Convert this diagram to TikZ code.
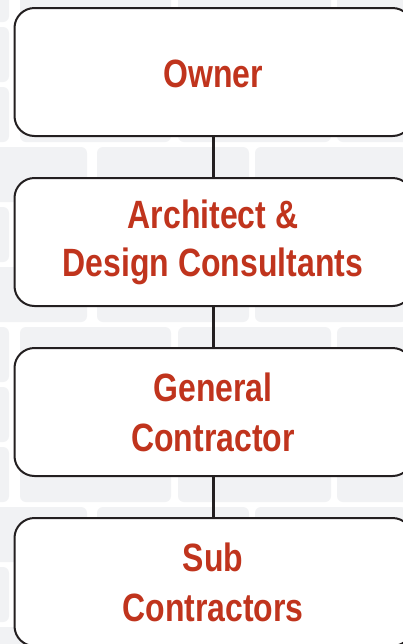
\documentclass[tikz,border=0pt]{standalone}
\usepackage{fontspec}
\setmainfont{Liberation Sans}[FakeStretch=0.81]
\definecolor{brickgray}{HTML}{F1F2F4}
\definecolor{linedark}{HTML}{231F20}
\definecolor{textred}{HTML}{C0341D}
\begin{document}
\begin{tikzpicture}[x=0.75pt,y=-0.75pt,
  brick/.style={fill=brickgray, rounded corners=4.5pt},
  orgbox/.style={draw=linedark, line width=1.5pt, fill=white, rounded corners=15pt,
    minimum width=298.5pt, minimum height=96pt, inner sep=0pt},
  lbl/.style={text=textred, font=\fontsize{29.6}{36}\selectfont\bfseries, inner sep=0pt, anchor=base},
  conn/.style={draw=linedark, line width=2.25pt}]
\useasboundingbox (0,0) rectangle (403,644);
\clip (0,0) rectangle (403,644);
\fill[white] (0,0) rectangle (403,644);
% background bricks
\foreach \t in {-33,27,87,207,327,387,447,567} {
  \foreach \a/\b in {-10/9,20/171,178/331,337/489}
    \fill[brick] (\a,\t) rectangle (\b,\t+55);
}
\foreach \t in {147,267,507,627} {
  \foreach \a/\b in {-60/87,97/249,255/407,413/560}
    \fill[brick] (\a,\t) rectangle (\b,\t+55);
}
% boxes
\node[orgbox] (owner) at (213.5,72) {};
\node[orgbox] (arch) at (213.5,242) {};
\node[orgbox] (gc) at (213.5,412) {};
\node[orgbox] (sub) at (213.5,582) {};
% connectors
\draw[conn] (owner.south) -- (arch.north);
\draw[conn] (arch.south) -- (gc.north);
\draw[conn] (gc.south) -- (sub.north);
% labels
\node[lbl] (t1) at (213,87.3) {Owner};
\node[lbl] (t2) at (213,228.3) {Architect \&};
\node[lbl] (t3) at (213,276.7) {Design Consultants};
\node[lbl] (t4) at (213,401.7) {General};
\node[lbl] (t5) at (213,451.7) {Contractor};
\node[lbl] (t6) at (213,571.7) {Sub};
\node[lbl] (t7) at (213,621.7) {Contractors};
\end{tikzpicture}
\end{document}
